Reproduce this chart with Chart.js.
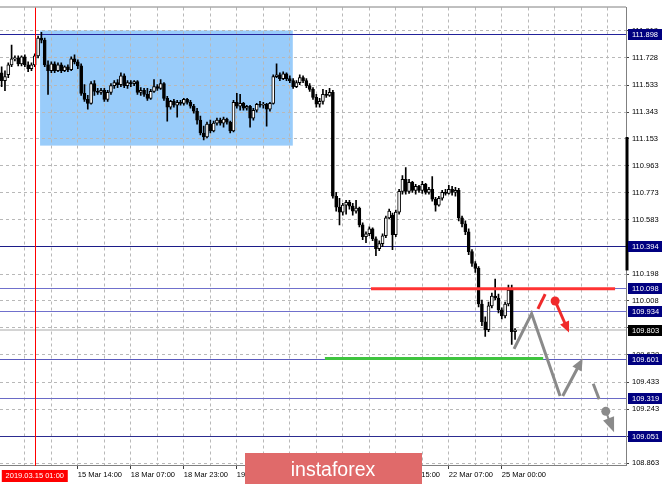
<!DOCTYPE html>
<html>
<head>
<meta charset="utf-8">
<script src="https://cdn.jsdelivr.net/npm/chart.js@4.4.0/dist/chart.umd.min.js"></script>
<style>
  html, body { margin: 0; padding: 0; background: #fff; }
</style>
</head>
<body>
<canvas id="chart" width="665" height="484"></canvas>
<script>
// USD/JPY H1, 14 Mar 15:00 .. 25 Mar 04:00 (one entry per hourly bar)
const opens = [
  111.621,111.565,111.607,111.677,111.719,111.726,111.684,111.733,111.677,111.649,
  111.677,111.740,111.866,111.852,111.677,111.635,111.684,111.635,111.677,111.635,
  111.663,111.642,111.719,111.698,111.670,111.475,111.433,111.405,111.544,111.489,
  111.482,111.496,111.433,111.482,111.530,111.551,111.537,111.600,111.530,111.551,
  111.544,111.558,111.482,111.496,111.468,111.440,111.489,111.523,111.510,111.544,
  111.440,111.377,111.419,111.391,111.412,111.405,111.433,111.412,111.384,111.349,
  111.286,111.195,111.167,111.258,111.209,111.265,111.286,111.265,111.293,111.272,
  111.209,111.412,111.384,111.405,111.370,111.384,111.300,111.356,111.398,111.391,
  111.398,111.363,111.405,111.593,111.607,111.579,111.614,111.579,111.565,111.523,
  111.551,111.586,111.565,111.530,111.503,111.447,111.398,111.419,111.468,111.461,
  111.482,110.748,110.671,110.636,110.685,110.706,110.678,110.643,110.664,110.546,
  110.462,110.483,110.518,110.448,110.378,110.413,110.469,110.595,110.615,110.476,
  110.636,110.783,110.867,110.783,110.846,110.790,110.818,110.790,110.832,110.776,
  110.797,110.727,110.685,110.734,110.776,110.769,110.797,110.776,110.790,110.595,
  110.553,110.497,110.357,110.273,110.238,109.987,109.861,109.806,109.973,110.043,
  110.029,109.945,109.903,109.987,110.085,109.792
];
const highs = [
  111.663,111.635,111.691,111.817,111.740,111.740,111.740,111.747,111.698,111.691,
  111.754,111.880,111.907,111.866,111.705,111.698,111.698,111.691,111.691,111.670,
  111.677,111.733,111.747,111.712,111.684,111.537,111.461,111.558,111.565,111.510,
  111.510,111.510,111.496,111.544,111.565,111.572,111.621,111.614,111.565,111.565,
  111.565,111.565,111.516,111.510,111.510,111.503,111.572,111.537,111.572,111.551,
  111.454,111.426,111.433,111.426,111.426,111.440,111.440,111.426,111.398,111.370,
  111.314,111.244,111.272,111.286,111.279,111.300,111.300,111.307,111.300,111.279,
  111.426,111.475,111.468,111.412,111.391,111.391,111.370,111.405,111.419,111.412,
  111.405,111.412,111.607,111.684,111.621,111.628,111.621,111.600,111.579,111.565,
  111.607,111.600,111.579,111.544,111.516,111.468,111.440,111.503,111.496,111.510,
  111.496,110.776,110.734,110.699,110.720,110.720,110.699,110.720,110.671,110.560,
  110.497,110.532,110.525,110.462,110.434,110.483,110.608,110.657,110.629,110.650,
  110.797,110.895,110.951,110.867,110.853,110.832,110.825,110.853,110.839,110.811,
  110.888,110.741,110.748,110.790,110.797,110.825,110.818,110.811,110.804,110.608,
  110.574,110.518,110.371,110.287,110.252,110.015,109.896,110.001,110.064,110.162,
  110.057,109.959,110.001,110.120,110.120,109.813
];
const lows = [
  111.523,111.495,111.586,111.663,111.705,111.670,111.670,111.663,111.628,111.635,
  111.663,111.726,111.831,111.663,111.468,111.621,111.621,111.628,111.621,111.628,
  111.628,111.635,111.684,111.649,111.461,111.419,111.363,111.398,111.461,111.468,
  111.468,111.419,111.419,111.468,111.510,111.516,111.523,111.516,111.510,111.523,
  111.530,111.468,111.461,111.454,111.426,111.433,111.482,111.496,111.503,111.426,
  111.279,111.363,111.377,111.307,111.391,111.391,111.398,111.370,111.335,111.258,
  111.181,111.146,111.160,111.195,111.202,111.251,111.251,111.237,111.258,111.195,
  111.202,111.370,111.356,111.356,111.356,111.237,111.286,111.342,111.377,111.370,
  111.244,111.349,111.398,111.586,111.565,111.572,111.565,111.551,111.510,111.516,
  111.537,111.551,111.516,111.489,111.433,111.377,111.377,111.398,111.447,111.454,
  110.734,110.643,110.546,110.615,110.622,110.657,110.615,110.629,110.532,110.441,
  110.420,110.469,110.434,110.329,110.364,110.392,110.455,110.588,110.371,110.462,
  110.622,110.762,110.762,110.769,110.776,110.762,110.776,110.769,110.762,110.762,
  110.713,110.643,110.678,110.720,110.755,110.762,110.755,110.748,110.574,110.532,
  110.476,110.336,110.252,110.210,109.966,109.833,109.757,109.792,109.959,110.015,
  109.924,109.882,109.889,109.973,109.701,109.736
];
const closes = [
  111.565,111.593,111.677,111.719,111.726,111.684,111.733,111.677,111.649,111.677,
  111.740,111.866,111.852,111.677,111.635,111.684,111.635,111.677,111.635,111.663,
  111.642,111.719,111.698,111.670,111.475,111.433,111.405,111.544,111.489,111.482,
  111.496,111.433,111.482,111.530,111.551,111.537,111.600,111.530,111.551,111.544,
  111.558,111.482,111.496,111.468,111.440,111.489,111.523,111.510,111.544,111.440,
  111.377,111.419,111.391,111.412,111.405,111.433,111.412,111.384,111.349,111.286,
  111.195,111.167,111.258,111.209,111.265,111.286,111.265,111.293,111.272,111.209,
  111.412,111.384,111.405,111.370,111.384,111.300,111.356,111.398,111.391,111.398,
  111.363,111.405,111.593,111.607,111.579,111.614,111.579,111.565,111.523,111.551,
  111.586,111.565,111.530,111.503,111.447,111.398,111.419,111.468,111.461,111.482,
  110.748,110.671,110.636,110.685,110.706,110.678,110.643,110.664,110.546,110.462,
  110.483,110.518,110.448,110.378,110.413,110.469,110.595,110.643,110.476,110.636,
  110.783,110.867,110.783,110.846,110.790,110.818,110.790,110.832,110.776,110.797,
  110.727,110.685,110.734,110.776,110.769,110.797,110.776,110.790,110.595,110.553,
  110.497,110.357,110.273,110.238,109.987,109.861,109.806,109.973,110.043,110.029,
  109.945,109.903,109.987,110.085,109.792,109.803
];

// time axis: 189 hourly slots, labels every 16 bars starting at slot 23
const SLOTS = 189;
const categories = Array.from({ length: SLOTS }, (_, i) => String(i));
const timeLabels = ['15 Mar 14:00','18 Mar 07:00','18 Mar 23:00','19 Mar 15:00','20 Mar 07:00',
                    '20 Mar 23:00','21 Mar 15:00','22 Mar 07:00','25 Mar 00:00'];
const FIRST_LABEL = 23, LABEL_STEP = 16, GRID_STEP = 8;

// price axis
const yMin = 108.849, yMax = 112.082;
const yTicks = [111.918,111.728,111.533,111.343,111.153,110.963,110.773,110.583,110.393,
                110.198,110.008,109.818,109.628,109.433,109.243,109.053,108.863];

// drawn objects
const levels = [
  { v: 111.898, color: '#22229a' },
  { v: 110.394, color: '#1c1c88' },
  { v: 110.098, color: '#7070cc' },
  { v: 109.934, color: '#7070cc' },
  { v: 109.601, color: '#5a5abf' },
  { v: 109.319, color: '#6a6ac6' },
  { v: 109.051, color: '#2c2c90' }
];
const bidPrice = 109.803;
const timeLine = 10;            // 2019.03.15 01:00
const timeLineText = '2019.03.15 01:00';
const boxRange = { from: 11.6, to: 87.9, top: 111.920, bottom: 111.106 };
const redLevel = { from: 111.5, to: 185.2, v: 110.095 };
const greenLevel = { from: 97.6, to: 163.5, v: 109.601 };
const grayPath = [[154.7, 109.670], [160.0, 109.919], [168.6, 109.337]];
const grayUp = [[169.4, 109.337], [175.4, 109.601]];
const grayDash = [[178.6, 109.423], [180.4, 109.314]];
const grayDot = [182.4, 109.228], grayTip = [184.9, 109.081];
const redSlash = [[161.9, 109.952], [164.1, 110.057]];
const redDot = [167.1, 110.008], redTip = [171.3, 109.785];

const FONT = "'Liberation Sans', Arial, sans-serif";
const GRID = '#b8b8b8';

const bodies = opens.map((o, i) => [Math.min(o, closes[i]), Math.max(o, closes[i])]);
const bodyColors = opens.map((o, i) => closes[i] >= o ? '#ffffff' : '#000000');
const wicks = lows.map((l, i) => [l, highs[i]]);

function isLabelSlot(i){ return i >= FIRST_LABEL && (i - FIRST_LABEL) % LABEL_STEP === 0 && (i - FIRST_LABEL) / LABEL_STEP < timeLabels.length; }

function arrow(ctx, x1, y1, x2, y2, color, w, head, spread){
  const a = Math.atan2(y2 - y1, x2 - x1);
  ctx.strokeStyle = color; ctx.lineWidth = w; ctx.lineCap = 'butt';
  ctx.beginPath(); ctx.moveTo(x1, y1);
  ctx.lineTo(x2 - Math.cos(a) * head * 0.8, y2 - Math.sin(a) * head * 0.8); ctx.stroke();
  ctx.fillStyle = color; ctx.beginPath(); ctx.moveTo(x2, y2);
  ctx.lineTo(x2 - head * Math.cos(a - spread), y2 - head * Math.sin(a - spread));
  ctx.lineTo(x2 - head * Math.cos(a + spread), y2 - head * Math.sin(a + spread));
  ctx.closePath(); ctx.fill();
}

const overlay = {
  id: 'overlay',
  beforeDraw(chart){
    const { ctx, scales: { x, y } } = chart;
    ctx.save();
    ctx.fillStyle = '#fff'; ctx.fillRect(0, 0, chart.width, chart.height);
    const x1 = x.getPixelForValue(boxRange.from), x2 = x.getPixelForValue(boxRange.to);
    const y1 = y.getPixelForValue(boxRange.top), y2 = y.getPixelForValue(boxRange.bottom);
    ctx.fillStyle = '#99ccfa';
    ctx.fillRect(x1, y1, x2 - x1, y2 - y1);
    ctx.restore();
  },
  beforeDatasetsDraw(chart){
    const { ctx, chartArea: ca, scales: { y } } = chart;
    ctx.save();
    // bid line
    const by = Math.round(y.getPixelForValue(bidPrice));
    ctx.strokeStyle = '#d4d4d4'; ctx.lineWidth = 2;
    ctx.beginPath(); ctx.moveTo(ca.left, by); ctx.lineTo(ca.right, by); ctx.stroke();
    // level lines
    ctx.lineWidth = 1;
    levels.forEach(l => {
      const py = Math.round(y.getPixelForValue(l.v)) + 0.5;
      ctx.strokeStyle = l.color;
      ctx.beginPath(); ctx.moveTo(ca.left, py); ctx.lineTo(ca.right, py); ctx.stroke();
    });
    ctx.restore();
  },
  afterDatasetsDraw(chart){
    const { ctx, chartArea: ca, scales: { x, y } } = chart;
    const P = p => [x.getPixelForValue(p[0]), y.getPixelForValue(p[1])];
    ctx.save();
    // vertical time line
    const tx = Math.round(x.getPixelForValue(timeLine)) + 0.5;
    ctx.strokeStyle = '#ff0000'; ctx.lineWidth = 1;
    ctx.beginPath(); ctx.moveTo(tx, ca.top); ctx.lineTo(tx, ca.bottom + 1); ctx.stroke();
    // red and green horizontal segments
    [[redLevel, '#ff3333'], [greenLevel, '#3fc43f']].forEach(([s, c]) => {
      const py = y.getPixelForValue(s.v);
      ctx.strokeStyle = c; ctx.lineWidth = 3;
      ctx.beginPath(); ctx.moveTo(x.getPixelForValue(s.from), py); ctx.lineTo(x.getPixelForValue(s.to), py); ctx.stroke();
    });
    // gray forecast
    const gray = '#8a8a8a';
    ctx.strokeStyle = gray; ctx.lineWidth = 3; ctx.lineJoin = 'miter';
    ctx.beginPath();
    grayPath.forEach((p, i) => { const [px, py] = P(p); i ? ctx.lineTo(px, py) : ctx.moveTo(px, py); });
    ctx.stroke();
    let a = P(grayUp[0]), b = P(grayUp[1]);
    arrow(ctx, a[0], a[1], b[0], b[1], gray, 3, 13, 0.42);
    a = P(grayDash[0]); b = P(grayDash[1]);
    ctx.strokeStyle = gray; ctx.lineWidth = 3;
    ctx.beginPath(); ctx.moveTo(a[0], a[1]); ctx.lineTo(b[0], b[1]); ctx.stroke();
    a = P(grayDot); b = P(grayTip);
    arrow(ctx, a[0], a[1], b[0], b[1], gray, 2, 16, 0.38);
    ctx.fillStyle = gray; ctx.beginPath(); ctx.arc(a[0], a[1], 4.5, 0, Math.PI * 2); ctx.fill();
    // red forecast
    const red = '#f02a2a';
    a = P(redSlash[0]); b = P(redSlash[1]);
    ctx.strokeStyle = red; ctx.lineWidth = 3;
    ctx.beginPath(); ctx.moveTo(a[0], a[1]); ctx.lineTo(b[0], b[1]); ctx.stroke();
    a = P(redDot); b = P(redTip);
    arrow(ctx, a[0], a[1], b[0], b[1], red, 3, 12, 0.42);
    ctx.fillStyle = red; ctx.beginPath(); ctx.arc(a[0], a[1], 4.5, 0, Math.PI * 2); ctx.fill();
    ctx.restore();
  },
  afterDraw(chart){
    const { ctx, chartArea: ca, scales: { x, y } } = chart;
    ctx.save();
    // top frame
    ctx.strokeStyle = '#808080'; ctx.lineWidth = 1;
    ctx.beginPath(); ctx.moveTo(0, ca.top - 0.5); ctx.lineTo(ca.right, ca.top - 0.5); ctx.stroke();
    // scroll marker on right edge
    ctx.strokeStyle = '#000'; ctx.lineWidth = 3;
    ctx.beginPath(); ctx.moveTo(ca.right + 1, y.getPixelForValue(111.167)); ctx.lineTo(ca.right + 1, y.getPixelForValue(110.224)); ctx.stroke();
    // price boxes
    ctx.font = '7.5px ' + FONT; ctx.textBaseline = 'middle'; ctx.textAlign = 'left';
    levels.concat([{ v: bidPrice, bg: '#000' }]).forEach(l => {
      const py = Math.round(y.getPixelForValue(l.v));
      ctx.fillStyle = l.bg || '#000080';
      ctx.fillRect(ca.right + 2, py - 5, 34, 11);
      ctx.fillStyle = '#fff';
      ctx.fillText(l.v.toFixed(3), ca.right + 6, py + 0.5);
    });
    // time line label
    const tx = x.getPixelForValue(timeLine);
    ctx.fillStyle = '#ff0000';
    ctx.fillRect(tx - 33, ca.bottom + 5, 66, 12);
    ctx.fillStyle = '#fff'; ctx.textAlign = 'center';
    ctx.fillText(timeLineText, tx, ca.bottom + 11);
    // watermark
    ctx.fillStyle = '#e06a6a';
    ctx.fillRect(245, 453, 177, 31);
    ctx.fillStyle = '#fff'; ctx.font = '19.5px ' + FONT; ctx.textBaseline = 'alphabetic';
    ctx.fillText('instaforex', 333, 476);
    ctx.restore();
  }
};

new Chart(document.getElementById('chart'), {
  type: 'bar',
  data: {
    labels: categories,
    datasets: [
      { label: 'body', data: bodies, backgroundColor: bodyColors, borderColor: '#000', borderWidth: 1,
        borderSkipped: false, barThickness: 3, minBarLength: 1, grouped: false, order: 0 },
      { label: 'wick', data: wicks, backgroundColor: '#000', barThickness: 1, grouped: false, order: 1 }
    ]
  },
  options: {
    responsive: false,
    devicePixelRatio: 1,
    animation: false,
    layout: { padding: { top: 2, left: 0, right: 0, bottom: 0 } },
    plugins: { legend: { display: false }, tooltip: { enabled: false } },
    scales: {
      x: {
        type: 'category',
        offset: true,
        afterFit: s => { s.height = 19; },
        grid: {
          offset: false,
          color: c => (c.index % GRID_STEP === FIRST_LABEL % GRID_STEP) ? GRID : 'rgba(0,0,0,0)',
          tickColor: c => isLabelSlot(c.index) ? '#404040' : 'rgba(0,0,0,0)',
          tickLength: 4
        },
        border: { display: true, color: '#808080', dash: [3, 3] },
        ticks: {
          autoSkip: false, maxRotation: 0, minRotation: 0, align: 'start', padding: 1,
          color: '#000', font: { family: FONT, size: 7.5 },
          callback: (v, i) => isLabelSlot(i) ? timeLabels[(i - FIRST_LABEL) / LABEL_STEP] : ''
        }
      },
      y: {
        type: 'linear',
        position: 'right',
        min: yMin, max: yMax,
        afterBuildTicks: s => { s.ticks = yTicks.map(v => ({ value: v })); },
        afterFit: s => { s.width = 39; },
        grid: { color: GRID, tickColor: '#404040', tickLength: 3 },
        border: { display: true, color: '#808080', dash: [3, 3] },
        ticks: {
          autoSkip: false, padding: 3, color: '#000',
          font: { family: FONT, size: 7.5 },
          callback: v => Number(v).toFixed(3)
        }
      }
    }
  },
  plugins: [overlay]
});
</script>
</body>
</html>
